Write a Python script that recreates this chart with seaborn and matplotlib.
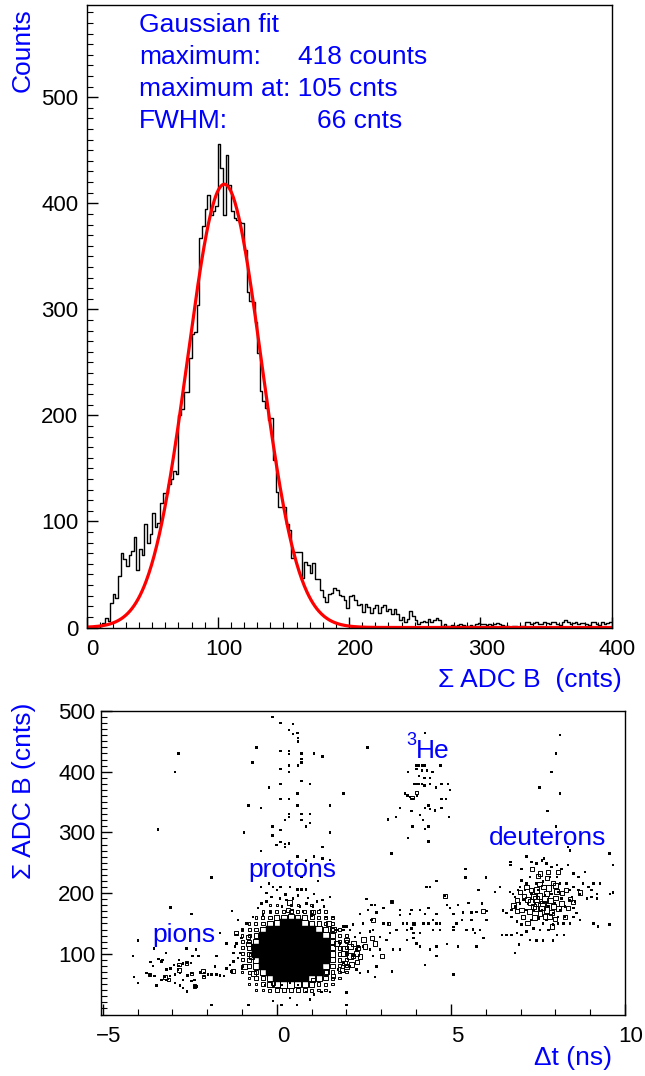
import numpy as np
import pandas as pd
import matplotlib
matplotlib.use("Agg")
import matplotlib.pyplot as plt
import matplotlib.transforms as mtrans
from matplotlib.ticker import MultipleLocator
import seaborn as sns

# ---------------- top panel: Sigma ADC B spectrum ----------------
adc_lo, adc_hi, adc_bin_width = 0, 400, 2
adc_counts = [
    0, 0, 0, 0, 0, 1, 4, 9, 6, 23,
    32, 28, 49, 70, 65, 58, 68, 72, 85, 54,
    74, 68, 98, 80, 88, 108, 95, 99, 117, 127,
    127, 135, 140, 148, 145, 200, 206, 222, 222, 254,
    277, 279, 304, 367, 379, 395, 408, 389, 393, 397,
    456, 433, 389, 446, 417, 393, 386, 384, 382, 381,
    356, 316, 308, 307, 288, 259, 223, 214, 207, 196,
    198, 158, 128, 114, 114, 114, 98, 92, 66, 71,
    71, 71, 47, 62, 59, 51, 61, 46, 46, 35,
    29, 24, 32, 33, 37, 35, 31, 30, 26, 18,
    30, 31, 26, 21, 22, 15, 22, 19, 14, 18,
    21, 14, 19, 21, 16, 17, 13, 17, 13, 7,
    10, 5, 8, 16, 11, 7, 3, 5, 6, 5,
    8, 5, 7, 9, 7, 1, 3, 1, 1, 2,
    1, 2, 3, 2, 1, 1, 2, 1, 3, 4,
    3, 3, 2, 3, 2, 3, 4, 3, 2, 1,
    1, 0, 1, 1, 0, 1, 1, 5, 5, 3,
    4, 5, 3, 3, 5, 4, 3, 5, 5, 3,
    2, 5, 7, 5, 3, 4, 5, 3, 4, 4,
    3, 2, 5, 5, 3, 2, 5, 3, 4, 5]
fit_amplitude = 418      # counts
fit_mean = 105           # cnts
fit_fwhm = 66            # cnts
top_xticks = [0, 100, 200, 300, 400]
top_yticks = [0, 100, 200, 300, 400, 500]
top_ymax = 587

# ---------------- bottom panel: Sigma ADC B vs delta t ----------------
stripe_pts = [(-0.12, 490), (0.11, 480), (0.47, 479), (0.35, 469), (0.47, 462), (0.59, 464), (0.60, 456),
              (0.60, 450), (-0.58, 440), (0.11, 434), (0.35, 434), (0.35, 429), (0.71, 430), (1.07, 430),
              (1.31, 425), (-0.70, 415), (0.71, 421), (0.71, 415), (0.11, 404), (0.35, 410), (0.35, 400),
              (0.61, 410), (0.11, 380), (-0.22, 374), (0.71, 385), (0.95, 380), (0.59, 364), (1.91, 364),
              (0.11, 355), (0.35, 355), (-0.82, 344), (-0.46, 340), (0.59, 344), (1.52, 344), (0.35, 330),
              (0.35, 325), (0.71, 330), (0.95, 330), (0.23, 320), (0.71, 320), (0.95, 315), (0.83, 310),
              (-0.12, 310), (0.11, 304), (-0.94, 300), (1.52, 300), (-0.12, 295), (0.11, 284), (0.23, 281),
              (0.35, 282), (0.23, 276), (-0.01, 279), (1.31, 276), (-0.46, 269), (0.59, 260), (0.83, 254),
              (1.07, 260), (1.31, 257), (1.52, 255), (0.71, 227), (1.19, 220), (-0.46, 210), (-0.22, 216),
              (-0.11, 210), (0.11, 210), (0.37, 210), (0.59, 206), (0.71, 206), (0.83, 206), (1.07, 199),
              (1.31, 189), (1.52, 194)]
isolated_pts = [(-2.82, 430), (-2.93, 400), (-3.41, 305), (-1.88, 226), (-3.05, 176), (-2.45, 166),
                (-1.29, 171), (-3.98, 122), (-4.13, 96)]
pion_pts = [(-3.75, 68), (-3.65, 66), (-3.55, 80), (-3.51, 63), (-3.40, 91), (-3.31, 87), (-3.29, 90),
            (-3.17, 57), (-3.07, 63), (-3.06, 76), (-2.95, 82), (-2.93, 66), (-2.84, 74), (-2.82, 80),
            (-2.79, 68), (-2.69, 84), (-2.69, 57), (-2.60, 109), (-2.58, 85), (-2.57, 64), (-2.47, 85),
            (-2.45, 68), (-2.36, 57), (-2.36, 46), (-2.33, 107), (-2.25, 96), (-2.19, 69), (-2.10, 68),
            (-2.10, 63), (-1.97, 66), (-1.88, 66), (-1.73, 66), (-1.64, 64), (-1.51, 63), (-3.53, 109),
            (-3.19, 101), (-2.93, 52), (-2.79, 48), (-2.69, 44), (-2.58, 38), (-2.45, 55), (-2.31, 46),
            (-3.12, 58), (-3.22, 62), (-3.31, 57), (-3.46, 48), (-2.81, 90), (-3.98, 52), (-4.11, 62),
            (-3.63, 86), (-3.17, 74), (-2.42, 96)]
gap_pts = [(-1.64, 134), (-1.45, 117), (-1.25, 101), (-1.21, 112), (-1.16, 131), (-1.02, 126), (-1.16, 117),
           (-1.06, 101), (-1.73, 96), (-1.78, 79), (-1.45, 76), (-1.35, 82), (-1.25, 87), (-1.11, 93),
           (-1.00, 76), (-1.30, 71)]
below_pts = [(-0.34, 49), (-0.11, 46), (0.13, 49), (0.37, 53), (0.61, 49), (0.83, 37), (1.07, 33), (1.28, 37),
             (1.52, 37), (2.00, 37), (-0.11, 22), (0.13, 16), (0.37, 27), (0.57, 16), (-0.82, 16), (-1.88, 16),
             (2.00, 16), (0.95, 25)]
halo_pts = [(-0.44, 183), (-0.30, 186), (-0.15, 194), (0.09, 191), (0.28, 189), (0.47, 191), (0.66, 178),
            (0.85, 183), (1.04, 178), (1.24, 172), (1.43, 161), (1.62, 161), (-0.68, 161), (-0.87, 150),
            (-0.97, 139), (-1.11, 156), (1.71, 139), (1.91, 145), (2.10, 139), (2.24, 128), (1.81, 117),
            (2.00, 101), (2.19, 96), (2.34, 112), (1.91, 85), (2.10, 79), (2.29, 74), (2.39, 68), (1.76, 74),
            (-0.30, 200), (0.00, 205), (0.25, 198), (0.60, 196), (0.90, 192), (1.15, 186), (-0.55, 175),
            (1.35, 178), (0.15, 178), (0.45, 172), (0.75, 170), (-0.20, 170), (1.00, 163), (-0.40, 165)]
he3_pts = [(4.25, 464), (2.60, 440), (4.01, 410), (4.09, 410), (4.17, 410), (4.24, 410), (4.01, 404),
           (4.17, 402), (4.32, 402), (4.47, 400), (4.70, 410), (3.77, 400), (4.09, 393), (4.24, 390),
           (4.40, 390), (3.94, 380), (4.01, 380), (4.09, 380), (4.17, 380), (4.24, 377), (4.40, 380),
           (4.57, 374), (4.73, 380), (4.92, 380), (4.97, 370), (3.68, 364), (3.75, 361), (3.82, 358),
           (3.90, 355), (4.03, 361), (4.73, 355), (4.86, 355), (3.53, 340), (3.87, 335), (4.11, 329),
           (4.25, 340), (4.35, 344), (4.40, 339), (4.54, 336), (4.73, 340), (4.95, 325), (3.20, 321),
           (3.42, 325), (4.20, 320), (3.90, 310), (4.25, 306), (4.35, 310), (3.77, 291), (4.35, 285),
           (3.29, 265), (1.91, 364)]
dstripe_pts = [(8.13, 460), (8.02, 430), (7.89, 400), (7.54, 374), (8.13, 364), (7.77, 335), (8.02, 310),
               (8.37, 276), (8.42, 270), (9.55, 265), (9.66, 246)]
deut_pts = [(6.71, 251), (6.71, 246), (7.03, 240), (7.17, 260), (7.32, 251), (7.46, 249), (7.61, 254),
            (7.67, 257), (7.75, 249), (7.89, 243), (8.04, 246), (8.18, 240), (8.37, 246), (8.52, 232),
            (8.66, 227), (8.85, 235), (9.09, 216), (9.28, 216), (9.19, 199), (9.04, 205), (9.19, 191),
            (9.57, 199), (9.66, 201), (8.71, 199), (8.90, 191), (8.56, 186), (8.42, 189), (8.52, 175),
            (8.61, 167), (8.42, 150), (8.23, 150), (8.08, 150), (7.94, 148), (7.80, 139), (7.56, 139),
            (7.37, 142), (7.17, 137), (7.03, 148), (6.89, 153), (6.74, 161), (6.60, 167), (6.50, 172),
            (6.46, 131), (6.60, 131), (6.74, 131), (6.89, 134), (7.03, 131), (7.27, 123), (7.46, 122),
            (7.65, 122), (7.94, 122), (8.04, 131), (8.25, 131), (8.52, 161), (8.71, 156), (9.09, 150),
            (9.23, 145), (9.55, 148), (6.95, 115), (6.84, 101), (6.93, 205), (6.79, 199), (6.70, 202),
            (6.84, 194), (6.98, 183), (6.84, 178), (6.74, 172), (7.17, 172), (7.37, 172), (7.75, 156),
            (7.94, 167), (8.13, 172), (8.28, 178), (8.42, 205), (8.52, 210), (8.32, 216), (8.13, 216),
            (8.04, 227), (7.84, 227), (7.65, 219), (7.46, 216), (7.27, 227), (7.17, 216), (7.03, 221),
            (6.98, 210), (7.12, 205), (7.32, 199), (7.51, 205), (7.70, 197), (7.89, 199), (8.08, 202),
            (8.18, 191), (7.99, 183), (7.80, 178), (7.61, 172), (7.41, 183), (7.22, 183), (7.08, 189),
            (7.51, 158), (7.32, 156), (7.65, 150), (8.08, 161), (8.28, 161), (8.47, 194), (8.66, 205),
            (8.80, 216), (8.95, 210), (9.04, 194)]
bridge_pts = [(4.30, 210), (4.40, 210), (4.59, 220), (4.83, 195), (5.42, 240), (5.42, 226), (6.01, 226),
              (5.79, 205), (6.26, 202), (6.41, 210), (3.30, 186), (2.58, 190), (2.72, 180), (2.82, 180),
              (2.62, 172), (3.06, 175), (3.53, 172), (3.87, 172), (4.11, 172), (4.35, 175), (4.88, 180),
              (4.97, 175), (5.21, 180), (5.50, 184), (5.90, 183), (6.02, 171), (6.50, 171), (2.39, 166),
              (2.86, 168), (3.53, 164), (3.82, 166), (4.25, 166), (4.59, 166), (5.07, 166), (5.35, 168),
              (5.59, 168), (3.06, 150), (3.20, 150), (3.63, 150), (3.73, 150), (3.92, 150), (4.21, 150),
              (4.35, 150), (4.49, 156), (4.59, 150), (4.68, 150), (5.07, 144), (5.16, 150), (5.31, 156),
              (5.59, 156), (5.74, 169), (6.02, 156), (2.48, 150), (2.72, 156), (2.19, 148), (2.00, 145),
              (1.91, 139), (2.39, 134), (2.67, 137), (2.77, 139), (2.96, 128), (3.25, 134), (3.44, 139),
              (3.73, 139), (3.87, 142), (3.92, 134), (4.11, 134), (4.49, 139), (4.68, 139), (5.07, 139),
              (5.45, 139), (5.64, 140), (5.83, 139), (5.69, 134), (5.93, 126), (3.92, 126), (4.01, 117),
              (3.73, 123), (4.11, 112), (4.40, 107), (4.59, 112), (4.88, 116), (5.21, 112), (5.74, 112),
              (3.34, 107), (3.53, 107), (2.96, 107), (3.15, 123), (2.29, 107), (2.48, 112), (2.67, 107),
              (2.77, 96), (2.86, 79), (2.62, 71), (3.30, 71), (2.82, 62), (4.59, 96), (4.25, 82), (5.07, 66),
              (2.00, 36), (2.00, 16)]
# open boxes: (dt, adc, entries)
box_pts = [(-3.22, 62, 3), (-3.12, 58, 2), (-2.82, 74, 3), (-2.81, 82, 2), (-2.12, 71, 3), (-2.10, 63, 2),
           (-3.65, 66, 2), (-2.60, 85, 2), (-2.45, 68, 2), (-2.36, 47, 2),
           (-0.82, 116, 4), (-1.16, 134, 3), (-0.92, 79, 4), (-1.25, 71, 3), (0.37, 185, 4), (0.33, 172, 3),
           (1.48, 150, 4), (1.62, 140, 5), (1.71, 117, 5), (1.91, 101, 4), (2.00, 79, 4), (2.19, 96, 3),
           (2.34, 109, 3), (1.43, 71, 4), (-0.11, 52, 4), (1.04, 169, 3), (-0.82, 128, 3), (-0.73, 96, 5),
           (-0.68, 68, 4), (1.62, 63, 3), (1.04, 57, 4), (2.00, 123, 3),
           (2.77, 156, 3), (5.93, 171, 3), (2.72, 126, 3), (2.48, 123, 4), (2.19, 117, 4), (2.10, 112, 5),
           (1.95, 109, 5), (2.29, 101, 4), (2.39, 96, 4), (2.10, 96, 5), (1.95, 85, 4), (2.15, 82, 4),
           (2.29, 87, 3), (2.53, 112, 3), (2.82, 117, 3), (3.01, 96, 3), (1.86, 74, 3), (3.20, 150, 2),
           (3.30, 186, 2), (3.92, 150, 2), (4.83, 195, 2), (4.01, 366, 2), (3.88, 358, 2),
           (7.32, 240, 3), (7.56, 232, 4), (7.80, 235, 3), (8.08, 235, 3), (6.98, 202, 3), (7.17, 210, 4),
           (7.46, 205, 5), (7.75, 199, 5), (8.04, 202, 4), (6.79, 180, 4), (7.03, 172, 4), (7.37, 178, 5),
           (7.65, 183, 5), (7.94, 178, 5), (8.18, 183, 4), (8.37, 175, 3), (7.08, 161, 3), (7.56, 167, 4),
           (7.84, 161, 4), (8.28, 161, 3), (8.71, 201, 3), (8.42, 191, 3), (7.37, 194, 4), (7.65, 210, 4),
           (7.94, 216, 3),
           (7.20, 190, 4), (7.30, 185, 5), (7.45, 190, 6), (7.55, 195, 5), (7.70, 190, 6), (7.85, 188, 5),
           (8.00, 192, 4), (7.25, 170, 4), (7.45, 175, 5), (7.60, 178, 6), (7.75, 172, 5), (7.90, 168, 4),
           (8.10, 175, 4), (7.30, 205, 4), (7.55, 215, 4), (7.80, 208, 5), (8.00, 212, 4), (8.20, 200, 3),
           (7.10, 195, 3), (6.90, 188, 3), (7.40, 160, 4), (7.70, 162, 4), (8.00, 158, 3), (7.50, 228, 3),
           (7.75, 225, 3), (8.30, 205, 3), (8.50, 185, 3), (6.90, 170, 3), (7.20, 150, 3), (7.90, 145, 3)]
# dense proton core, entries per 0.2 ns x 10 cnts cell
core_dt = [-1.0, -0.8, -0.6, -0.4, -0.2, 0.0, 0.2, 0.4, 0.6, 0.8, 1.0, 1.2, 1.4, 1.6, 1.8, 2.0]
core_adc = [180, 170, 160, 150, 140, 130, 120, 110, 100, 90, 80, 70, 60, 50, 40]
core_counts = [
    [0, 0, 0, 0, 1, 1, 0, 1, 1, 0, 1, 0, 0, 0, 0, 0],
    [0, 0, 0, 1, 1, 2, 2, 3, 2, 2, 1, 1, 1, 0, 0, 0],
    [0, 0, 1, 2, 3, 5, 6, 7, 6, 5, 4, 2, 1, 1, 0, 0],
    [0, 1, 2, 3, 6, 8, 12, 13, 12, 8, 6, 4, 2, 1, 0, 0],
    [1, 2, 3, 6, 11, 16, 20, 22, 21, 18, 13, 9, 4, 2, 1, 0],
    [1, 2, 5, 10, 15, 24, 30, 33, 31, 26, 19, 13, 8, 4, 2, 1],
    [2, 3, 7, 12, 20, 30, 38, 42, 40, 34, 25, 17, 11, 5, 3, 2],
    [2, 4, 10, 13, 22, 33, 42, 46, 44, 37, 28, 19, 12, 6, 3, 2],
    [2, 4, 10, 13, 22, 33, 42, 46, 44, 37, 28, 19, 12, 6, 3, 2],
    [2, 3, 7, 12, 20, 31, 40, 43, 41, 35, 26, 18, 11, 5, 3, 2],
    [1, 3, 6, 11, 18, 27, 35, 37, 35, 30, 22, 15, 9, 4, 2, 1],
    [1, 2, 4, 8, 14, 21, 27, 29, 27, 23, 17, 11, 6, 3, 1, 1],
    [0, 1, 3, 5, 7, 14, 18, 19, 18, 15, 8, 7, 4, 2, 1, 0],
    [0, 1, 1, 3, 5, 7, 9, 9, 8, 7, 5, 3, 2, 1, 0, 0],
    [0, 0, 1, 1, 2, 3, 3, 4, 3, 3, 2, 1, 1, 0, 0, 0]]
bot_xticks = [-5, 0, 5, 10]
bot_yticks = [100, 200, 300, 400, 500]

# ---------------- figure ----------------
sns.set_style("white")
plt.rcParams["font.family"] = ["Liberation Sans", "DejaVu Sans"]
plt.rcParams["axes.edgecolor"] = "black"
plt.rcParams["axes.linewidth"] = 1.0
plt.rcParams["xtick.color"] = "black"
plt.rcParams["ytick.color"] = "black"

W, H = 645, 1076
fig = plt.figure(figsize=(W / 100, H / 100), dpi=100)
fig.patch.set_facecolor("white")
BLUE = "#0000ff"


def ftxt(px, py, s, **kw):
    kw.setdefault("color", BLUE)
    kw.setdefault("fontsize", 19)
    kw.setdefault("va", "baseline")
    fig.text(px / W, 1 - py / H, s, **kw)


def sq(px):
    return (px * 72.0 / 100.0) ** 2


def style_axis(ax, xminor, yminor, xpad, ypad):
    ax.xaxis.set_minor_locator(MultipleLocator(xminor))
    ax.yaxis.set_minor_locator(MultipleLocator(yminor))
    ax.tick_params(which="both", direction="in", top=False, right=False, bottom=True, left=True,
                   colors="black")
    ax.tick_params(which="major", length=8, width=1.0, labelsize=16)
    ax.tick_params(which="minor", length=4, width=0.8)
    ax.tick_params(axis="x", which="major", pad=xpad)
    ax.tick_params(axis="y", which="major", pad=ypad)
    ax.set_xlabel("")
    ax.set_ylabel("")
    ax.grid(False)
    for sp in ax.spines.values():
        sp.set_color("black")
        sp.set_linewidth(1.0)
    shift = mtrans.ScaledTranslation(6 / 100, 0, fig.dpi_scale_trans)
    for t in ax.xaxis.get_major_ticks():
        t.label1.set_transform(t.label1.get_transform() + shift)


# ---- top panel ----
ax1 = fig.add_axes([86.5 / W, 1 - 627.5 / H, (611.5 - 86.5) / W, (627.5 - 5) / H])
n_bins = (adc_hi - adc_lo) // adc_bin_width
centers = adc_lo + adc_bin_width * (np.arange(n_bins) + 0.5)
hist_df = pd.DataFrame({"adc": centers, "n": adc_counts})
sns.histplot(data=hist_df, x="adc", weights="n", bins=int(n_bins), binrange=(adc_lo, adc_hi),
             element="step", fill=False, color="black", linewidth=1.0, ax=ax1)
sigma = fit_fwhm / (2 * np.sqrt(2 * np.log(2)))
xs = np.linspace(adc_lo, adc_hi, 801)
fit_df = pd.DataFrame({"adc": xs, "f": fit_amplitude * np.exp(-0.5 * ((xs - fit_mean) / sigma) ** 2)})
sns.lineplot(data=fit_df, x="adc", y="f", color="#ff0000", linewidth=2.3, ax=ax1)
ax1.set_xlim(adc_lo, adc_hi)
ax1.set_ylim(0, top_ymax)
ax1.set_xticks(top_xticks)
ax1.set_yticks(top_yticks)
style_axis(ax1, 10, 10, xpad=8, ypad=6)

# ---- bottom panel ----
ax2 = fig.add_axes([100.7 / W, 1 - 1014.5 / H, (625 - 100.7) / W, (1014.5 - 711) / H])

cells = []
for yi, yv in enumerate(core_adc):
    for xi, xv in enumerate(core_dt):
        n = core_counts[yi][xi]
        if n > 0:
            cells.append((xv, yv, n))
core_df = pd.DataFrame(cells, columns=["dt", "adc", "n"])
full_df = core_df[core_df["n"] >= 10]
open_df = core_df[core_df["n"] < 10]
sns.scatterplot(data=full_df, x="dt", y="adc", marker="s", s=sq(7.8), color="black",
                edgecolor="black", linewidth=0.3, ax=ax2, legend=False)
sns.scatterplot(data=open_df, x="dt", y="adc", marker="s", s=[sq(1.8 + 0.6 * n) for n in open_df["n"]],
                color="none", edgecolor="black", linewidth=0.7, ax=ax2, legend=False)

box_df = pd.DataFrame(box_pts, columns=["dt", "adc", "n"])
sns.scatterplot(data=box_df, x="dt", y="adc", marker="s", s=[sq(1.8 + 0.75 * n) for n in box_df["n"]],
                color="none", edgecolor="black", linewidth=0.7, ax=ax2, legend=False)

dots = (stripe_pts + isolated_pts + pion_pts + gap_pts + below_pts + halo_pts + he3_pts
        + dstripe_pts + deut_pts + bridge_pts)
dot_df = pd.DataFrame(dots, columns=["dt", "adc"])
sns.scatterplot(data=dot_df, x="dt", y="adc", marker="s", s=sq(2.4), color="black",
                edgecolor="none", linewidth=0, ax=ax2, legend=False)

ax2.set_xlim(-5.06, 10.0)
ax2.set_ylim(0, 500)
ax2.set_xticks(bot_xticks)
ax2.set_yticks(bot_yticks)
style_axis(ax2, 1, 10, xpad=8, ypad=4)

# ---- texts ----
ftxt(139, 32, "Gaussian fit")
ftxt(139, 64, "maximum:")
ftxt(298, 64, f"{fit_amplitude} counts")
ftxt(139, 96, f"maximum at: {fit_mean} cnts")
ftxt(139, 128, "FWHM:")
ftxt(317, 128, f"{fit_fwhm} cnts")
ftxt(23, 8, "Counts", rotation=90, ha="center", va="top")
ftxt(622, 687, "\u03a3 ADC B  (cnts)", ha="right")

ftxt(24, 703, "\u03a3 ADC B (cnts)", rotation=90, ha="center", va="top")
ftxt(612, 1065, "\u0394t (ns)", ha="right")
ftxt(152, 942, "pions")
ftxt(248, 877, "protons")
ftxt(489, 845, "deuterons")
ftxt(406, 745, "3", fontsize=13)
ftxt(416, 758, "He")

fig.savefig("out.png", dpi=100, facecolor="white")
